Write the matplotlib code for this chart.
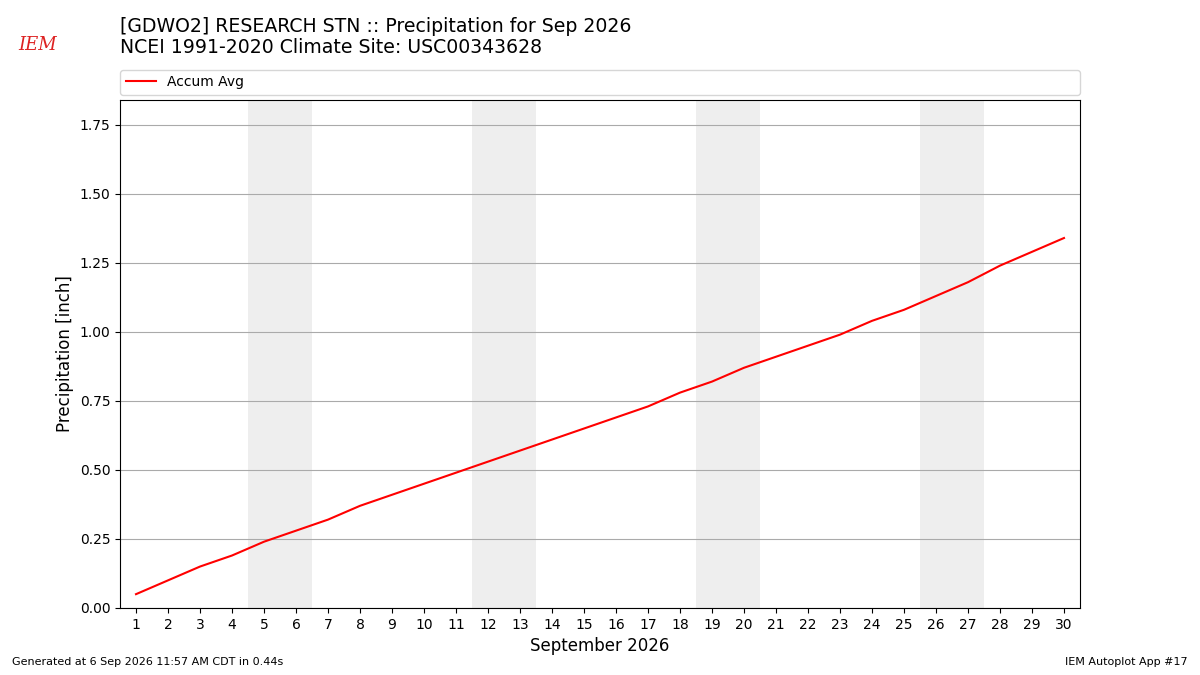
import matplotlib
matplotlib.use("Agg")
import matplotlib.pyplot as plt

# Dados
days = list(range(1, 31))
accum_avg = [0.05, 0.10, 0.15, 0.19, 0.24, 0.28, 0.32, 0.37, 0.41, 0.45,
             0.49, 0.53, 0.57, 0.61, 0.65, 0.69, 0.73, 0.78, 0.82, 0.87,
             0.91, 0.95, 0.99, 1.04, 1.08, 1.13, 1.18, 1.24, 1.29, 1.34]
weekends = [(5, 6), (12, 13), (19, 20), (26, 27)]
yticks = [0.0, 0.25, 0.5, 0.75, 1.0, 1.25, 1.5, 1.75]

fig = plt.figure(figsize=(12, 6.75), dpi=100)
ax = fig.add_axes([0.1, 0.0993, 0.8, 0.7526])

# fins de semana sombreados
for start, end in weekends:
    ax.axvspan(start - 0.5, end + 0.5, color="#eeeeee", zorder=0, lw=0)

ax.plot(days, accum_avg, color="red", lw=1.5, label="Accum Avg", zorder=3)

ax.set_xlim(0.5, 30.5)
ax.set_ylim(0, 1.84)
ax.set_xticks(days)
ax.set_yticks(yticks)
ax.set_yticklabels([f"{v:.2f}" for v in yticks])
ax.grid(axis="y", color="#aaaaaa", lw=0.8, zorder=1)
ax.set_axisbelow(True)
ax.tick_params(axis="both", labelsize=10)
ax.set_xlabel("September 2026", fontsize=12)
ax.set_ylabel("Precipitation [inch]", fontsize=12)

ax.legend(loc="lower left", bbox_to_anchor=(0, 1.01, 1, 0.05), mode="expand",
          ncol=1, fontsize=10, borderaxespad=0, handlelength=2.2)

fig.text(0.1, 0.961, "[GDWO2] RESEARCH STN :: Precipitation for Sep 2026",
         fontsize=13.6, va="center")
fig.text(0.1, 0.929, "NCEI 1991-2020 Climate Site: USC00343628",
         fontsize=13.6, va="center")

# logo simples
fig.text(0.031, 0.933, "IEM", color="#d22", fontsize=13, style="italic",
         family="serif", va="center", ha="center")

fig.text(0.01, 0.015, "Generated at 6 Sep 2026 11:57 AM CDT in 0.44s", fontsize=8)
fig.text(0.99, 0.015, "IEM Autoplot App #17", fontsize=8, ha="right")

fig.savefig("out.png", dpi=100)
